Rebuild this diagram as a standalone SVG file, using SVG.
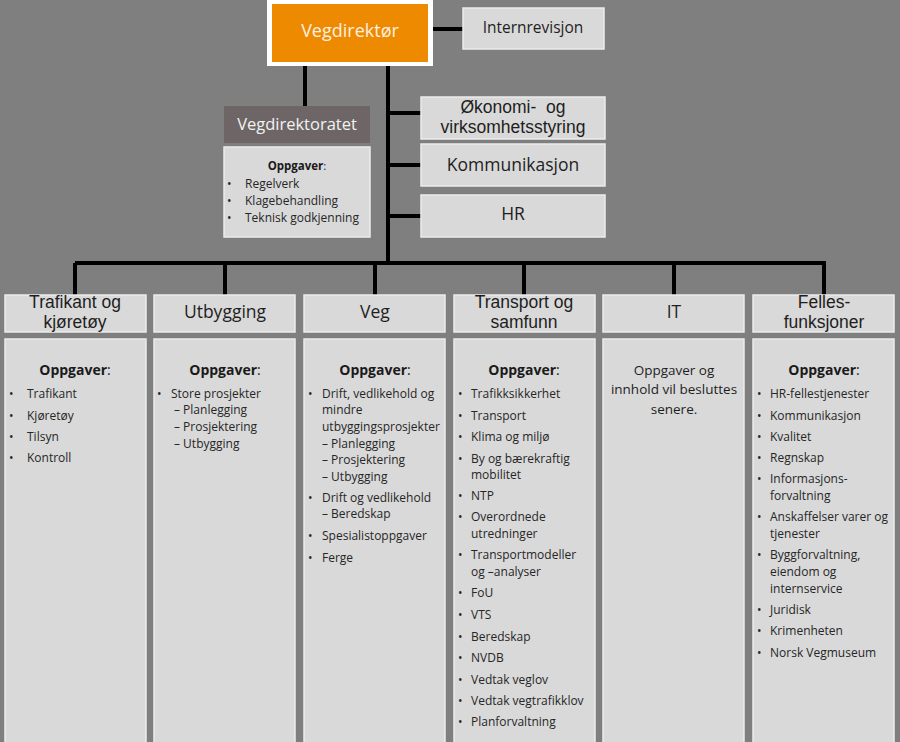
<svg xmlns="http://www.w3.org/2000/svg" width="900" height="742" viewBox="0 0 900 742">
<style>
.box{fill:#d9d9d9;stroke:#ececec;stroke-width:1.5}
.hdr{font-family:"Open Sans","Liberation Sans",sans-serif;font-size:17.5px;fill:#1e1e1e;text-anchor:middle}
.hdr2{font-family:"Liberation Sans",Arial,sans-serif;font-size:17.5px;fill:#1e1e1e;text-anchor:middle}
.t{font-family:"Open Sans","Liberation Sans",sans-serif;font-size:12px;fill:#262626}
.ttl{font-family:"Open Sans","Liberation Sans",sans-serif;font-size:14px;fill:#1a1a1a;text-anchor:middle;font-weight:bold}
.ln{stroke:#000;stroke-width:4;fill:none}
</style>
<rect x="0" y="0" width="900" height="742" fill="#7f7f7f"/>
<g id="connectors">
<path class="ln" d="M432,29H463"/>
<path class="ln" d="M305,66V106"/>
<path class="ln" d="M388,66V263"/>
<path class="ln" d="M388,113H421M388,165H421M388,216H421"/>
<path class="ln" d="M75,263H826"/>
<path class="ln" d="M75,263V295M225,263V295M375,263V295M524,263V295M674,263V295M824,263V295"/>
</g>
<g id="vegdirektor">
<rect x="267" y="0" width="166" height="66" fill="#ffffff"/>
<rect x="272" y="4" width="156" height="58" fill="#ee8a00"/>
<text x="350" y="37" text-anchor="middle" font-family="'Open Sans','Liberation Sans',sans-serif" font-size="18" fill="#fdf0e0">Vegdirektør</text>
</g>
<g id="internrevisjon">
<rect class="box" x="463" y="8" width="141" height="41"/>
<text x="533" y="33" text-anchor="middle" font-family="'Open Sans','Liberation Sans',sans-serif" font-size="15.5" fill="#1e1e1e">Internrevisjon</text>
</g>
<g id="vegdirektoratet">
<rect x="224" y="106" width="146" height="37" fill="#6e6666"/>
<text x="297" y="130" text-anchor="middle" font-family="'Open Sans','Liberation Sans',sans-serif" font-size="16.5" fill="#f2f2f2">Vegdirektoratet</text>
<rect class="box" x="224" y="147" width="146" height="90"/>
<text x="297" y="170" text-anchor="middle" font-family="'Open Sans','Liberation Sans',sans-serif" font-size="11.5" fill="#1a1a1a"><tspan font-weight="bold">Oppgaver</tspan>:</text>
<g class="t" font-size="11.5">
<text x="227" y="188">•</text><text x="245" y="188">Regelverk</text>
<text x="227" y="205">•</text><text x="245" y="205">Klagebehandling</text>
<text x="227" y="222">•</text><text x="245" y="222">Teknisk godkjenning</text>
</g>
</g>
<g id="okonomi">
<rect class="box" x="421" y="97" width="184" height="42"/>
<text class="hdr2" font-size="18"><tspan x="513" y="112.5">Økonomi-&#160; og</tspan><tspan x="513" y="132.8">virksomhetsstyring</tspan></text>
</g>
<g id="kommunikasjon">
<rect class="box" x="421" y="144" width="184" height="42"/>
<text x="513" y="171" class="hdr">Kommunikasjon</text>
</g>
<g id="hr">
<rect class="box" x="421" y="195" width="184" height="42"/>
<text x="513" y="220" class="hdr">HR</text>
</g>
<g id="trafikant">
<rect class="box" x="5" y="295" width="141" height="37"/>
<text class="hdr2"><tspan x="75" y="308">Trafikant og</tspan><tspan x="75" y="327.7">kjøretøy</tspan></text>
<rect class="box" x="5" y="339" width="141" height="410"/>
<text x="75" y="375" class="ttl">Oppgaver<tspan font-weight="normal">:</tspan></text>
<g class="t">
<text x="9" y="398">•</text><text x="27" y="398">Trafikant</text>
<text x="9" y="420">•</text><text x="27" y="420">Kjøretøy</text>
<text x="9" y="441">•</text><text x="27" y="441">Tilsyn</text>
<text x="9" y="462">•</text><text x="27" y="462">Kontroll</text>
</g>
</g>
<g id="utbygging">
<rect class="box" x="154" y="295" width="141" height="37"/>
<text x="225" y="318" class="hdr">Utbygging</text>
<rect class="box" x="154" y="339" width="141" height="410"/>
<text x="225" y="375" class="ttl">Oppgaver<tspan font-weight="normal">:</tspan></text>
<g class="t">
<text x="157" y="398">•</text><text x="171" y="398">Store prosjekter</text>
<text x="174" y="414">– Planlegging</text>
<text x="174" y="431">– Prosjektering</text>
<text x="174" y="448">– Utbygging</text>
</g>
</g>
<g id="veg">
<rect class="box" x="304" y="295" width="141" height="37"/>
<text x="375" y="318" class="hdr">Veg</text>
<rect class="box" x="304" y="339" width="141" height="410"/>
<text x="375" y="375" class="ttl">Oppgaver<tspan font-weight="normal">:</tspan></text>
<g class="t">
<text x="308" y="398">•</text><text x="322" y="398">Drift, vedlikehold og</text>
<text x="322" y="414">mindre</text>
<text x="322" y="431">utbyggingsprosjekter</text>
<text x="322" y="448">– Planlegging</text>
<text x="322" y="464">– Prosjektering</text>
<text x="322" y="481">– Utbygging</text>
<text x="308" y="502">•</text><text x="322" y="502">Drift og vedlikehold</text>
<text x="322" y="518">– Beredskap</text>
<text x="308" y="540">•</text><text x="322" y="540">Spesialistoppgaver</text>
<text x="308" y="562">•</text><text x="322" y="562">Ferge</text>
</g>
</g>
<g id="transport">
<rect class="box" x="454" y="295" width="141" height="37"/>
<text class="hdr2"><tspan x="524" y="308">Transport og</tspan><tspan x="524" y="327.7">samfunn</tspan></text>
<rect class="box" x="454" y="339" width="141" height="410"/>
<text x="524" y="375" class="ttl">Oppgaver<tspan font-weight="normal">:</tspan></text>
<g class="t">
<text x="458" y="398">•</text><text x="471" y="398">Trafikksikkerhet</text>
<text x="458" y="420">•</text><text x="471" y="420">Transport</text>
<text x="458" y="441">•</text><text x="471" y="441">Klima og miljø</text>
<text x="458" y="463">•</text><text x="471" y="463">By og bærekraftig</text>
<text x="471" y="479">mobilitet</text>
<text x="458" y="500">•</text><text x="471" y="500">NTP</text>
<text x="458" y="521">•</text><text x="471" y="521">Overordnede</text>
<text x="471" y="538">utredninger</text>
<text x="458" y="559">•</text><text x="471" y="559">Transportmodeller</text>
<text x="471" y="576">og –analyser</text>
<text x="458" y="597">•</text><text x="471" y="597">FoU</text>
<text x="458" y="619">•</text><text x="471" y="619">VTS</text>
<text x="458" y="641">•</text><text x="471" y="641">Beredskap</text>
<text x="458" y="662">•</text><text x="471" y="662">NVDB</text>
<text x="458" y="684">•</text><text x="471" y="684">Vedtak veglov</text>
<text x="458" y="705">•</text><text x="471" y="705">Vedtak vegtrafikklov</text>
<text x="458" y="726">•</text><text x="471" y="726">Planforvaltning</text>
</g>
</g>
<g id="it">
<rect class="box" x="603" y="295" width="141" height="37"/>
<text x="674" y="318" class="hdr">IT</text>
<rect class="box" x="603" y="339" width="141" height="410"/>
<g font-family="'Open Sans','Liberation Sans',sans-serif" font-size="13.5" fill="#1e1e1e" text-anchor="middle">
<text x="674" y="375">Oppgaver og</text>
<text x="674" y="394">innhold vil besluttes</text>
<text x="674" y="414">senere.</text>
</g>
</g>
<g id="felles">
<rect class="box" x="753" y="295" width="141" height="37"/>
<text class="hdr2"><tspan x="824" y="308">Felles-</tspan><tspan x="824" y="327.7">funksjoner</tspan></text>
<rect class="box" x="753" y="339" width="141" height="410"/>
<text x="824" y="375" class="ttl">Oppgaver<tspan font-weight="normal">:</tspan></text>
<g class="t">
<text x="757" y="398">•</text><text x="770" y="398">HR-fellestjenester</text>
<text x="757" y="420">•</text><text x="770" y="420">Kommunikasjon</text>
<text x="757" y="441">•</text><text x="770" y="441">Kvalitet</text>
<text x="757" y="462">•</text><text x="770" y="462">Regnskap</text>
<text x="757" y="483">•</text><text x="770" y="483">Informasjons-</text>
<text x="770" y="500">forvaltning</text>
<text x="757" y="521">•</text><text x="770" y="521">Anskaffelser varer og</text>
<text x="770" y="538">tjenester</text>
<text x="757" y="559">•</text><text x="770" y="559">Byggforvaltning,</text>
<text x="770" y="576">eiendom og</text>
<text x="770" y="593">internservice</text>
<text x="757" y="614">•</text><text x="770" y="614">Juridisk</text>
<text x="757" y="635">•</text><text x="770" y="635">Krimenheten</text>
<text x="757" y="657">•</text><text x="770" y="657">Norsk Vegmuseum</text>
</g>
</g>
</svg>
